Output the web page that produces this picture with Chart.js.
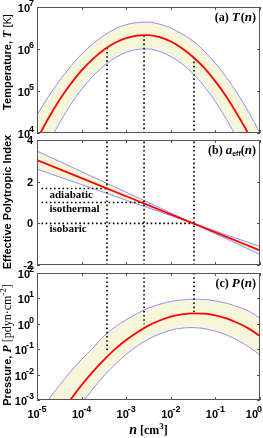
<!DOCTYPE html>
<html>
<head>
<meta charset="utf-8">
<script src="https://cdn.jsdelivr.net/npm/chart.js@4.4.1/dist/chart.umd.min.js"></script>
<style>
  html, body { margin: 0; padding: 0; background: #fff; }
  #wrap { position: relative; width: 263px; height: 438px; }
  #wrap canvas { position: absolute; left: 0; top: 0; }
</style>
</head>
<body>
<div id="wrap">
  <canvas id="tChart" width="263" height="438"></canvas>
  <canvas id="aChart" width="263" height="438"></canvas>
  <canvas id="pChart" width="263" height="438"></canvas>
</div>
<script>
// ---- data (log10 values unless stated) ----
const logN = [-5, -4.75, -4.5, -4.25, -4, -3.75, -3.5, -3.25, -3, -2.75, -2.5,
  -2.25, -2, -1.75, -1.5, -1.25, -1, -0.75, -0.5, -0.25, 0];

// (a) temperature, log10 T [K]
const logT     = [3.85, 4.34, 4.78, 5.16, 5.49, 5.76, 5.98, 6.15, 6.26, 6.32, 6.33,
  6.28, 6.18, 6.02, 5.81, 5.55, 5.23, 4.86, 4.43, 3.96, 3.42];
const logTHigh = [4.43, 4.86, 5.24, 5.58, 5.88, 6.12, 6.32, 6.48, 6.58, 6.63, 6.64,
  6.59, 6.50, 6.36, 6.19, 5.95, 5.66, 5.32, 4.93, 4.49, 4.00];
const logTLow  = [3.18, 3.74, 4.23, 4.67, 5.04, 5.35, 5.60, 5.79, 5.92, 5.99, 6.00,
  5.94, 5.82, 5.65, 5.41, 5.11, 4.75, 4.32, 3.84, 3.29, 2.69];

// (b) effective polytropic index (linear), sampled per decade
const logNDec   = [-5, -4, -3, -2, -1, 0];
const aEff      = [3.04, 2.17, 1.30, 0.43, -0.43, -1.30];
const aEffSteep = [3.47, 2.48, 1.49, 0.50, -0.50, -1.49];
const aEffFlat  = [2.60, 1.86, 1.11, 0.37, -0.37, -1.11];

// (c) pressure, log10 P [pdyn cm^-2]
const logP     = [-5.05, -4.31, -3.62, -2.99, -2.41, -1.89, -1.42, -1.00, -0.64, -0.33, -0.07,
  0.13, 0.28, 0.37, 0.41, 0.40, 0.33, 0.21, 0.03, -0.19, -0.48];
const logPHigh = [-3.63, -3.00, -2.43, -1.89, -1.40, -0.96, -0.48, -0.13, 0.16, 0.41, 0.62,
  0.77, 0.88, 0.94, 0.97, 0.96, 0.90, 0.81, 0.67, 0.50, 0.22];
const logPLow  = [-6.10, -5.27, -4.50, -3.80, -3.15, -2.57, -2.05, -1.60, -1.20, -0.87, -0.60,
  -0.40, -0.25, -0.17, -0.15, -0.19, -0.29, -0.44, -0.65, -0.91, -1.23];

// regimes marked by the dotted guides
const regimeLabels = ['adiabatic', 'isothermal', 'isobaric'];
const regimeIndex  = [1.67, 1, 0];
const regimeLogN   = [-3.43, -2.6, -1.48];
const regimeLogT   = [6.03, 6.33, 5.80];   // where guides start in (a)
const regimeLogP   = [-1.08, -0.02, 0.46]; // where guides end in (c)
const guideStartLogN = -4.9;

// tick labels
const nTicks    = [-5, -4, -3, -2, -1, 0];
const tempTicks = [4, 5, 6, 7];
const idxTicks  = [-2, 0, 2, 4];
const presTicks = [-3, -2, -1, 0, 1, 2];

// ---- colours / fonts ----
const RED = '#ff0000', BLUE = '#8f8fff', FILL = '#f8f6da', FRAME = '#555';
const SANS = '"Liberation Sans", Arial, sans-serif';
const SERIF = '"Liberation Serif", "Times New Roman", serif';

const P10 = v => Math.pow(10, v);
const logPts = (xs, ys) => xs.map((v, i) => ({ x: P10(v), y: P10(ys[i]) }));
const linPts = (xs, ys) => xs.map((v, i) => ({ x: P10(v), y: ys[i] }));

function bandSets(mid, hi, lo, smooth) {
  const cm = smooth ? 'monotone' : 'default';
  return [
    { data: mid, borderColor: RED, borderWidth: 1.8, cubicInterpolationMode: cm, order: 0 },
    { data: hi, borderColor: BLUE, borderWidth: 1, fill: '+1', backgroundColor: FILL, cubicInterpolationMode: cm, order: 2 },
    { data: lo, borderColor: BLUE, borderWidth: 1, cubicInterpolationMode: cm, order: 3 }
  ];
}
function guide(pts) {
  return { data: pts, borderColor: '#000', borderWidth: 1.6, borderDash: [1.6, 2.6], order: 1 };
}

// rich text: segments drawn one after another
function richWidth(ctx, segs) {
  return segs.reduce((w, s) => { ctx.font = s.f; return w + ctx.measureText(s.t).width + (s.gap || 0); }, 0);
}
function drawRich(ctx, segs, x, y) {
  let cx = x;
  segs.forEach(s => {
    ctx.font = s.f;
    ctx.fillText(s.t, cx, y + (s.dy || 0));
    cx += ctx.measureText(s.t).width + (s.gap || 0);
  });
}
function drawPow(ctx, e, x, y, align) {
  const base = 'bold 11px ' + SANS, sup = 'bold 9px ' + SANS;
  const segs = [{ t: '10', f: base, gap: -1 }, { t: String(e), f: sup, dy: -6 }];
  const w = richWidth(ctx, segs);
  let sx = align === 'right' ? x - w : x - w / 2;
  if (sx + w > 262) sx = 262 - w;
  drawRich(ctx, segs, sx, y);
}

const framePlugin = {
  id: 'frame',
  afterDatasetsDraw(chart, args, o) {
    const { ctx, chartArea: a, scales: { x, y } } = chart;
    ctx.save();
    ctx.strokeStyle = FRAME;
    ctx.lineWidth = 1;
    ctx.strokeRect(a.left + 0.5, a.top + 0.5, a.width - 1, a.height - 1);
    ctx.beginPath();
    nTicks.forEach(e => {
      const px = Math.round(x.getPixelForValue(P10(e))) + 0.5;
      ctx.moveTo(px, a.bottom); ctx.lineTo(px, a.bottom - 3);
      ctx.moveTo(px, a.top); ctx.lineTo(px, a.top + 3);
    });
    o.yTicks.forEach(v => {
      const py = Math.round(y.getPixelForValue(o.yLog ? P10(v) : v)) + 0.5;
      ctx.moveTo(a.left, py); ctx.lineTo(a.left + 3, py);
      ctx.moveTo(a.right, py); ctx.lineTo(a.right - 3, py);
    });
    ctx.stroke();

    ctx.fillStyle = '#000';
    ctx.textBaseline = 'alphabetic';
    // y tick labels
    o.yTicks.forEach(v => {
      const py = y.getPixelForValue(o.yLog ? P10(v) : v);
      if (o.yLog) {
        drawPow(ctx, v, 34, py + 5, 'right');
      } else {
        ctx.font = 'bold 11px ' + SANS;
        ctx.textAlign = 'right';
        ctx.fillText(String(v), 33, py + 4);
        ctx.textAlign = 'left';
      }
    });
    // x tick labels
    if (o.xLabels) {
      nTicks.forEach(e => drawPow(ctx, e, x.getPixelForValue(P10(e)), a.bottom + 18, 'center'));
      const segs = o.xTitle;
      const w = richWidth(ctx, segs);
      drawRich(ctx, segs, (a.left + a.right) / 2 - w / 2, a.bottom + 34);
    }
    // panel label, top right
    const pw = richWidth(ctx, o.panel);
    drawRich(ctx, o.panel, a.right - 4 - pw, a.top + 14);
    // y title, rotated
    const tw = richWidth(ctx, o.yTitle);
    ctx.translate(o.yTitleX, o.yTitleY);
    ctx.rotate(-Math.PI / 2);
    drawRich(ctx, o.yTitle, -tw / 2, 0);
    ctx.restore();
    if (o.after) o.after(chart);
  }
};

function makeChart(id, datasets, pad, yScale, frame) {
  return new Chart(document.getElementById(id), {
    type: 'line',
    data: { datasets },
    options: {
      responsive: false,
      animation: false,
      devicePixelRatio: 1,
      layout: { padding: pad },
      parsing: true,
      elements: { point: { radius: 0 }, line: { borderCapStyle: 'butt' } },
      datasets: { line: { clip: 0 } },
      plugins: {
        legend: { display: false },
        tooltip: { enabled: false },
        filler: { drawTime: 'beforeDatasetsDraw' },
        frame
      },
      scales: {
        x: { type: 'logarithmic', min: 1e-5, max: 1, display: false },
        y: Object.assign({ display: false }, yScale)
      }
    },
    plugins: [framePlugin]
  });
}

// (a) T(n)
const tGuides = regimeLogN.map((v, i) => guide([{ x: P10(v), y: P10(regimeLogT[i]) }, { x: P10(v), y: 1e4 }]));
makeChart('tChart',
  [...bandSets(logPts(logN, logT), logPts(logN, logTHigh), logPts(logN, logTLow), true), ...tGuides],
  { left: 37, right: 3, top: 7, bottom: 305 },
  { type: 'logarithmic', min: 1e4, max: 1e7 },
  {
    yLog: true, yTicks: tempTicks,
    panel: [{ t: '(a) ', f: 'bold 12px ' + SERIF }, { t: 'T', f: 'italic bold 13px ' + SERIF, gap: 1 }, { t: '(', f: 'bold 12px ' + SERIF }, { t: 'n', f: 'italic bold 13px ' + SERIF }, { t: ')', f: 'bold 12px ' + SERIF }],
    yTitle: [{ t: 'Temperature, ', f: 'bold 11px ' + SANS }, { t: 'T', f: 'italic bold 12px ' + SERIF }, { t: ' [K]', f: '11px ' + SANS }],
    yTitleX: 11, yTitleY: 62
  });

// (b) a_eff(n)
const aGuides = [];
regimeLogN.forEach((v, i) => {
  aGuides.push(guide([{ x: P10(v), y: -2 }, { x: P10(v), y: 4 }]));
  aGuides.push(guide([{ x: P10(guideStartLogN), y: regimeIndex[i] }, { x: P10(v), y: regimeIndex[i] }]));
});
makeChart('aChart',
  [...bandSets(linPts(logNDec, aEff), linPts(logNDec, aEffSteep), linPts(logNDec, aEffFlat), false), ...aGuides],
  { left: 37, right: 3, top: 140, bottom: 173 },
  { type: 'linear', min: -2, max: 4 },
  {
    yLog: false, yTicks: idxTicks,
    panel: [{ t: '(b) ', f: 'bold 12px ' + SERIF }, { t: 'a', f: 'italic bold 13px ' + SERIF }, { t: 'eff', f: 'bold 7px ' + SANS, dy: 2 }, { t: '(', f: 'bold 12px ' + SERIF }, { t: 'n', f: 'italic bold 13px ' + SERIF }, { t: ')', f: 'bold 12px ' + SERIF }],
    yTitle: [{ t: 'Effective Polytropic Index', f: 'bold 11px ' + SANS }],
    yTitleX: 11, yTitleY: 202,
    after(chart) {
      const { ctx, scales: { x, y } } = chart;
      ctx.save();
      ctx.fillStyle = '#000';
      ctx.font = 'bold 11px ' + SERIF;
      regimeLabels.forEach((t, i) => {
        ctx.fillText(t, x.getPixelForValue(P10(guideStartLogN)) + 8, y.getPixelForValue(regimeIndex[i]) + 9);
      });
      ctx.restore();
    }
  });

// (c) P(n)
const pGuides = regimeLogN.map((v, i) => guide([{ x: P10(v), y: 1e2 }, { x: P10(v), y: P10(regimeLogP[i]) }]));
makeChart('pChart',
  [...bandSets(logPts(logN, logP), logPts(logN, logPHigh), logPts(logN, logPLow), true), ...pGuides],
  { left: 37, right: 3, top: 273, bottom: 38 },
  { type: 'logarithmic', min: 1e-3, max: 1e2 },
  {
    yLog: true, yTicks: presTicks, xLabels: true,
    xTitle: [{ t: 'n', f: 'italic bold 14px ' + SERIF }, { t: ' [cm', f: 'bold 12px ' + SERIF }, { t: '3', f: 'bold 9px ' + SERIF, dy: -5 }, { t: ']', f: 'bold 12px ' + SERIF }],
    panel: [{ t: '(c) ', f: 'bold 12px ' + SERIF }, { t: 'P', f: 'italic bold 13px ' + SERIF, gap: 1 }, { t: '(', f: 'bold 12px ' + SERIF }, { t: 'n', f: 'italic bold 13px ' + SERIF }, { t: ')', f: 'bold 12px ' + SERIF }],
    yTitle: [{ t: 'Pressure, ', f: 'bold 11px ' + SANS }, { t: 'P', f: 'italic bold 12px ' + SERIF }, { t: ' [pdyn·cm', f: '12px ' + SERIF }, { t: '-2', f: '9px ' + SERIF, dy: -5 }, { t: ']', f: '12px ' + SERIF }],
    yTitleX: 11, yTitleY: 345
  });
</script>
</body>
</html>
